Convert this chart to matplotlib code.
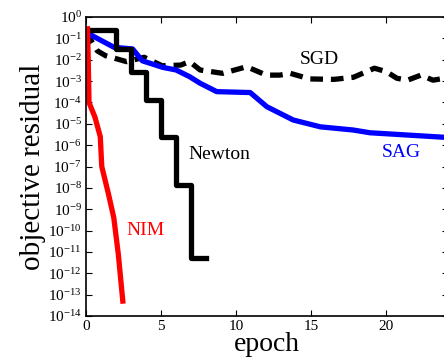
import matplotlib
matplotlib.use("Agg")
import matplotlib.pyplot as plt
from matplotlib.ticker import LogLocator, NullLocator, FixedLocator

plt.rcParams["font.family"] = ["Liberation Serif", "DejaVu Serif"]
plt.rcParams["mathtext.fontset"] = "custom"
plt.rcParams["mathtext.rm"] = "Liberation Serif"

# Newton (step, value held until next epoch)
newton_epoch = [0, 2, 3, 4, 5, 6, 7, 8]
newton_res = [2.5e-1, 3.2e-2, 2.7e-3, 1.3e-4, 2.5e-6, 1.35e-8, 5e-12, 5e-12]

# SAG
sag_epoch = [0, 0.2, 1.87, 3.1, 3.75, 5.1, 6.0, 6.9, 7.6, 8.7, 10.93,
             12.04, 13.8, 15.6, 17.8, 18.9, 24]
sag_res = [2e-1, 1.6e-1, 3.8e-2, 3.2e-2, 8.9e-3, 4.4e-3, 3.3e-3, 1.6e-3,
           7.9e-4, 3.2e-4, 2.9e-4, 6.3e-5, 1.5e-5, 7.2e-6, 5.1e-6, 3.8e-6,
           2.3e-6]

# SGD
sgd_epoch = [0, 0.75, 1.3, 2.1, 2.7, 3.87, 5.07, 6.3, 6.9, 7.6, 9.1, 10.7,
             12.0, 12.9, 13.6, 14.9, 16.5, 17.8, 19.2, 20.0, 20.7, 21.4,
             22.3, 23.1, 24]
sgd_res = [2e-1, 2.6e-2, 1.55e-2, 1.07e-2, 8.1e-3, 1.3e-2, 5.2e-3, 5.6e-3,
           8.1e-3, 3.3e-3, 2.3e-3, 4.7e-3, 1.9e-3, 1.9e-3, 2.3e-3, 1.26e-3,
           1.2e-3, 1.5e-3, 4e-3, 2.75e-3, 1.35e-3, 1.1e-3, 1.9e-3, 1.1e-3,
           1.4e-3]

# NIM
nim_epoch = [0.1, 0.15, 0.2, 0.6, 0.95, 1.05, 1.5, 1.85, 2.15, 2.45]
nim_res = [2.8e-1, 1e-2, 1e-4, 2e-5, 2.5e-6, 1e-7, 5e-9, 4e-10, 8e-12, 5e-14]

fig = plt.figure(figsize=(4.44, 3.64), dpi=100)
ax = fig.add_axes([86 / 444, 1 - 316 / 364, 362 / 444, 299 / 364])

lw = 3.8
ax.plot(sgd_epoch, sgd_res, color="black", lw=lw, ls=(0, (2.4, 1.5)))
ax.plot(sag_epoch, sag_res, color="blue", lw=lw)
ax.step(newton_epoch, newton_res, where="post", color="black", lw=lw)
ax.plot(nim_epoch, nim_res, color="red", lw=lw)

ax.set_yscale("log")
ax.set_xlim(0, 24.1)
ax.set_ylim(1e-14, 1)
ax.yaxis.set_major_locator(LogLocator(base=10, numticks=20))
ax.yaxis.set_minor_locator(NullLocator())
ax.xaxis.set_major_locator(FixedLocator([0, 5, 10, 15, 20]))

ax.tick_params(direction="in", top=True, right=True, length=4, width=0.8,
               labelsize=11, pad=3)
for s in ax.spines.values():
    s.set_linewidth(1.2)

ax.set_xlabel("epoch", fontsize=20, labelpad=-1)
ax.set_ylabel("objective residual", fontsize=21, labelpad=1)

ax.text(15.5, 1e-2, "SGD", fontsize=14, ha="center", va="center")
ax.text(8.9, 3.5e-7, "Newton", fontsize=14, ha="center", va="center")
ax.text(21.0, 4.5e-7, "SAG", fontsize=14, ha="center", va="center", color="blue")
ax.text(3.95, 1e-10, "NIM", fontsize=14, ha="center", va="center", color="red")

fig.savefig("out.png", dpi=100)
